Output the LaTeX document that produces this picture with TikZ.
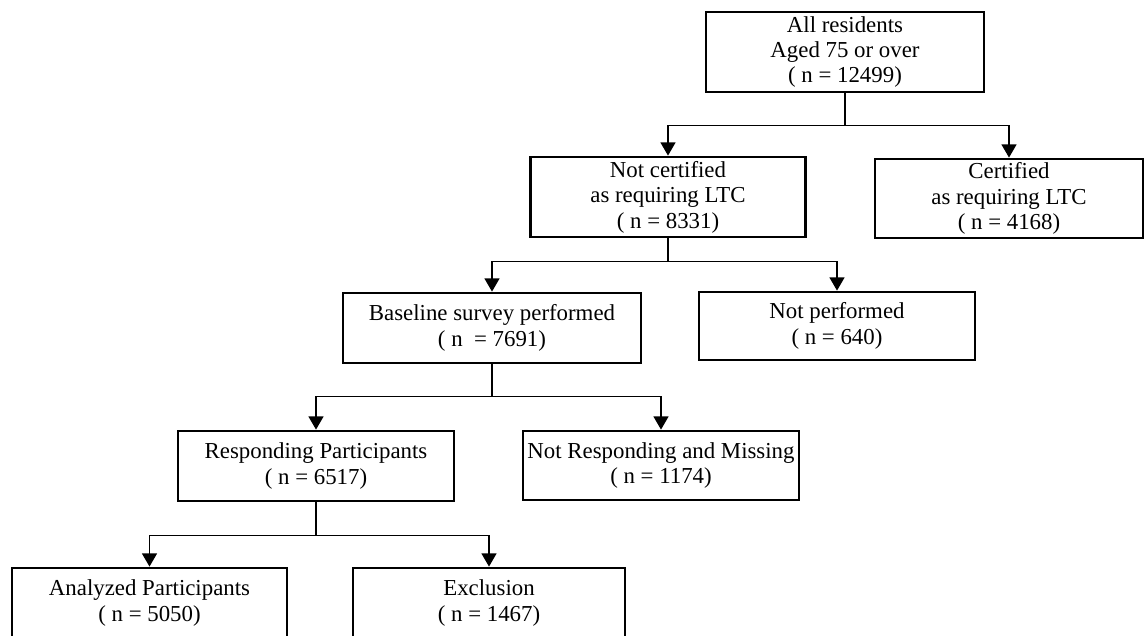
\documentclass[tikz,border=0pt]{standalone}
\usepackage{fontspec}
\setmainfont{Liberation Serif}
\usetikzlibrary{arrows.meta}

\begin{document}
\begin{tikzpicture}[-{Triangle[width=8.5pt,length=7.5pt]},x=0.02cm,y=-0.02cm,
    line width=0.8pt,font=\fontsize{13}{14.5}\selectfont]
  \tikzstyle{box}=[draw,-,line width=1.6pt,align=center,inner sep=0pt,
    minimum width=5.5cm,minimum height=1.4cm]
  \tikzstyle{tall}=[minimum height=1.6cm]
  \useasboundingbox (0,0) rectangle (1145,635);

  % boxes
  \node[box,tall,minimum width=5.56cm] (all) at (845,52) {All residents\\Aged 75 or over\\( n = 12499)};
  \node[box,tall] (notcert) at (668,197) {Not certified\\as requiring LTC\\( n = 8331)};
  \node[box,tall,minimum width=5.36cm,minimum height=1.58cm] (cert) at (1009,198.5) {Certified\\as requiring LTC\\( n = 4168)};
  \node[box,minimum width=5.96cm] (base) at (492,328) {Baseline survey performed\\( n~ = 7691)};
  \node[box,minimum width=5.52cm,minimum height=1.36cm] (notperf) at (837,326) {Not performed\\( n = 640)};
  \node[box,minimum width=5.52cm] (resp) at (316,466) {Responding Participants\\( n = 6517)};
  \node[box,minimum width=5.52cm,minimum height=1.38cm] (notresp) at (661,465.5) {Not Responding and Missing\\( n = 1174)};
  \node[box] (anal) at (149.5,603) {Analyzed Participants\\( n = 5050)};
  \node[box,minimum width=5.44cm] (excl) at (489,603) {Exclusion\\( n = 1467)};

  % connectors
  \draw[-] (all.south) -- ++(0,32) coordinate (s1);
  \draw (s1) -| (notcert.north);
  \draw (s1) -| (cert.north);
  \draw[-] (notcert.south) -- ++(0,23) coordinate (s2);
  \draw (s2) -| (base.north);
  \draw (s2) -| (notperf.north);
  \draw[-] (base.south) -- ++(0,32) coordinate (s3);
  \draw (s3) -| (resp.north);
  \draw (s3) -| (notresp.north);
  \draw[-] (resp.south) -- ++(0,33) coordinate (s4);
  \draw (s4) -| (anal.north);
  \draw (s4) -| (excl.north);
\end{tikzpicture}
\end{document}
